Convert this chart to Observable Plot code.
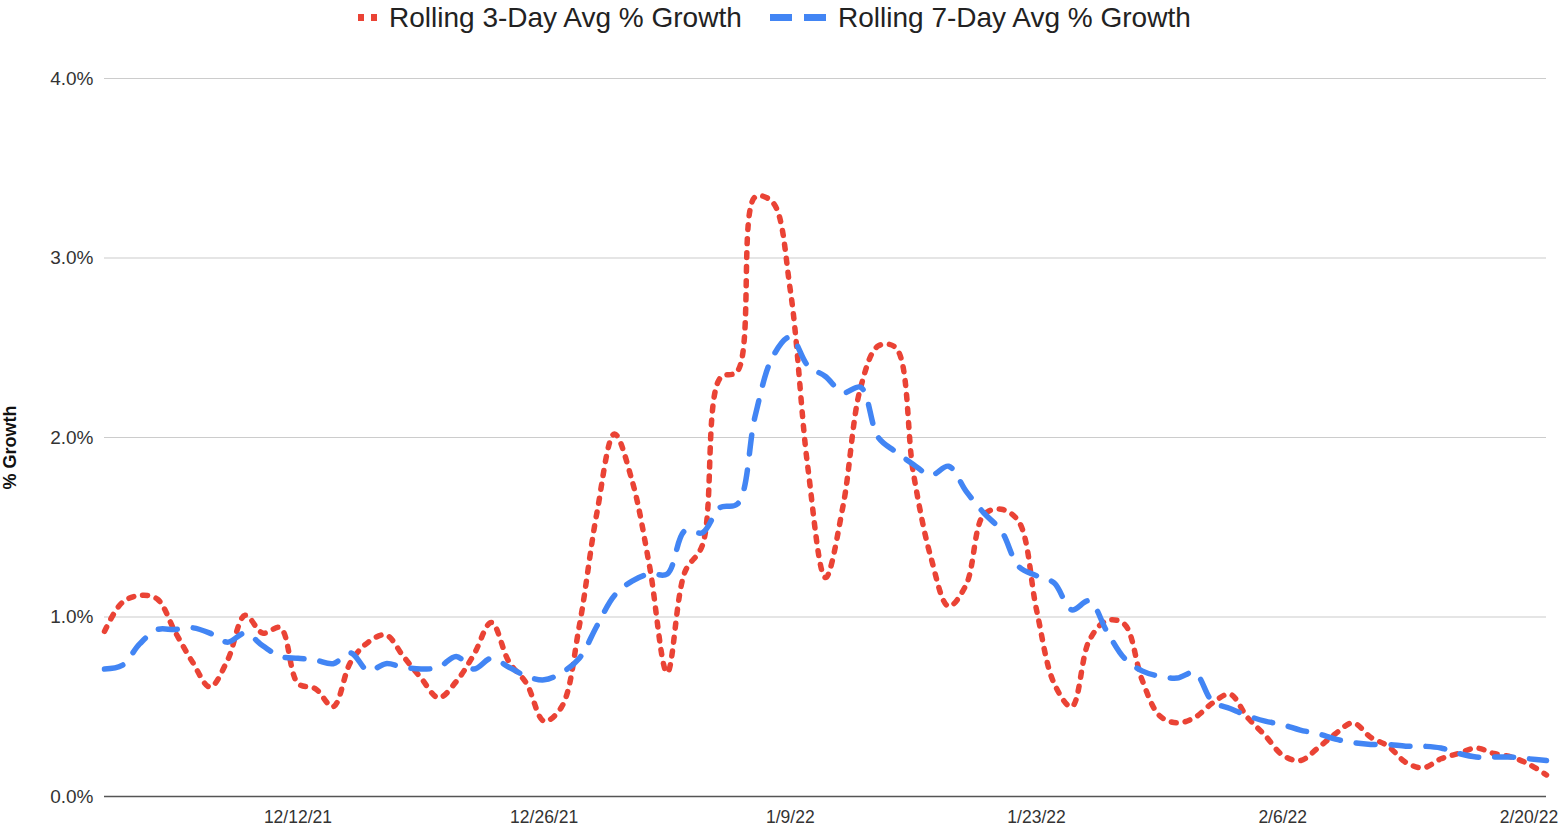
<!DOCTYPE html>
<html><head><meta charset="utf-8">
<script src="https://cdn.jsdelivr.net/npm/d3@7"></script>
<script src="https://cdn.jsdelivr.net/npm/@observablehq/plot@0.6"></script>
<style>
body{margin:0;background:#fff;font-family:"Liberation Sans",Arial,sans-serif;}
#legend{position:relative;height:35px;width:1561px;}
.item{position:absolute;top:0;height:35px;display:flex;align-items:center;font-size:28px;color:#222;white-space:nowrap;}
.sw{position:absolute;top:0;height:35px;}
</style></head><body>
<div id="legend"></div><div id="chart"></div>
<script>
// ---- data ----
const seriesNames = ["Rolling 3-Day Avg % Growth", "Rolling 7-Day Avg % Growth"];
const firstDay = "2021-12-01";   // one value per consecutive day
const lastDay = "2022-02-21";
const growth3 = [0.92,1.08,1.12,1.10,0.92,0.75,0.61,0.76,1.01,0.91,
 0.94,0.63,0.60,0.50,0.75,0.86,0.90,0.78,0.66,0.55,
 0.64,0.79,0.97,0.75,0.63,0.42,0.50,0.95,1.58,2.02,
 1.76,1.28,0.69,1.25,1.40,2.33,2.37,3.34,3.31,2.82,
 1.83,1.22,1.62,2.28,2.51,2.50,1.80,1.33,1.06,1.18,
 1.57,1.60,1.53,1.04,0.63,0.50,0.87,0.98,0.96,0.65,
 0.45,0.41,0.44,0.52,0.57,0.44,0.34,0.23,0.20,0.27,
 0.35,0.41,0.33,0.28,0.19,0.16,0.21,0.24,0.27,0.24,
 0.22,0.18,0.12];
const growth7 = [0.71,0.73,0.85,0.93,0.93,0.94,0.91,0.86,0.91,0.84,
 0.78,0.77,0.76,0.74,0.80,0.70,0.74,0.72,0.71,0.72,
 0.78,0.71,0.77,0.72,0.67,0.65,0.69,0.77,0.95,1.12,
 1.20,1.24,1.24,1.48,1.47,1.61,1.63,2.12,2.45,2.56,
 2.40,2.34,2.25,2.28,2.00,1.92,1.85,1.79,1.84,1.70,
 1.58,1.48,1.28,1.23,1.19,1.04,1.09,0.92,0.77,0.70,
 0.67,0.66,0.69,0.53,0.49,0.45,0.42,0.40,0.37,0.35,
 0.32,0.30,0.29,0.29,0.28,0.28,0.27,0.24,0.22,0.22,
 0.22,0.21,0.20];
const yTicks = [0, 1, 2, 3, 4];
const xTickLabels = ["12/12/21", "12/26/21", "1/9/22", "1/23/22", "2/6/22", "2/20/22"];
const colors = ["#EA4335", "#4285F4"];

// ---- build ----
const parseTick = d3.utcParse("%m/%d/%y");
const dates = d3.utcDay.range(new Date(firstDay), d3.utcDay.offset(new Date(lastDay), 1));
const rows3 = dates.map((d, i) => ({date: d, value: growth3[i]}));
const rows7 = dates.map((d, i) => ({date: d, value: growth7[i]}));
const xTicks = xTickLabels.map(parseTick);

// legend
const legend = document.getElementById("legend");
legend.innerHTML = `
<svg class="sw" style="left:356px" width="24" height="35"><rect x="2" y="14" width="6" height="7" fill="${colors[0]}"/><rect x="15" y="14" width="6" height="7" fill="${colors[0]}"/></svg>
<div class="item" style="left:389px">${seriesNames[0]}</div>
<svg class="sw" style="left:770px" width="58" height="35"><rect x="0" y="14" width="22" height="7" fill="${colors[1]}"/><rect x="34" y="14" width="22" height="7" fill="${colors[1]}"/></svg>
<div class="item" style="left:838px">${seriesNames[1]}</div>`;

const chart = Plot.plot({
  width: 1561, height: 795,
  marginTop: 43, marginBottom: 34, marginLeft: 104, marginRight: 15,
  style: {fontFamily: "'Liberation Sans', Arial, sans-serif", fontSize: "17.5px", color: "#333", background: "white"},
  x: {type: "utc", domain: [dates[0], dates[dates.length - 1]]},
  y: {domain: [0, 4]},
  marks: [
    Plot.gridY(yTicks.filter(d => d > 0), {stroke: "#cccccc", strokeOpacity: 1, strokeWidth: 1.2}),
    Plot.ruleY([0], {stroke: "#555", strokeWidth: 1.6}),
    Plot.axisY(yTicks, {tickSize: 0, tickPadding: 11, fontSize: 19, tickFormat: d => d.toFixed(1) + "%",
      label: "% Growth", labelAnchor: "center", labelArrow: "none"}),
    Plot.axisX(xTicks, {tickSize: 0, tickPadding: 14, tickFormat: d3.utcFormat("%-m/%-d/%y"), label: null}),
    Plot.lineY(rows3, {x: "date", y: "value", stroke: colors[0], strokeWidth: 5.5, strokeDasharray: "5 9", curve: "catmull-rom"}),
    Plot.lineY(rows7, {x: "date", y: "value", stroke: colors[1], strokeWidth: 5.5, strokeDasharray: "19 16", curve: "catmull-rom"})
  ]
});
document.getElementById("chart").appendChild(chart);
const yl = d3.select(chart).select('g[aria-label="y-axis label"]');
yl.attr("transform", (yl.attr("transform") || "") + " translate(0,10)");
yl.selectAll("text").attr("font-weight", "bold").attr("fill", "#111").attr("font-size", 18);
</script></body></html>
